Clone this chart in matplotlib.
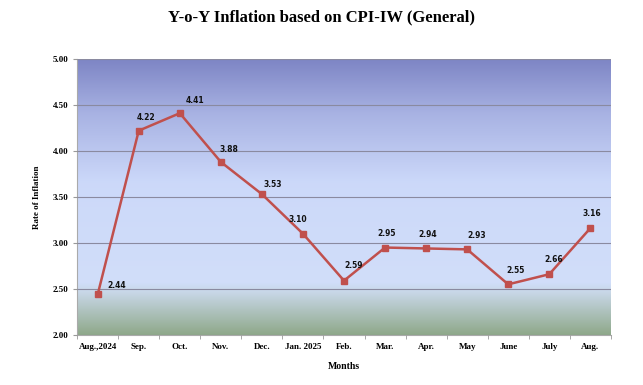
import numpy as np
import matplotlib
matplotlib.use('Agg')
import matplotlib.pyplot as plt
from matplotlib.colors import LinearSegmentedColormap

months = ['Aug.,2024', 'Sep.', 'Oct.', 'Nov.', 'Dec.', 'Jan. 2025', 'Feb.',
          'Mar.', 'Apr.', 'May', 'June', 'July', 'Aug.']
inflation = [2.44, 4.22, 4.41, 3.88, 3.53, 3.10, 2.59, 2.95, 2.94, 2.93, 2.55, 2.66, 3.16]
# label offsets in points (dx, dy)
label_offsets = [(14, 3), (5, 6), (11, 6), (6, 6), (8, 4), (-4, 7), (7, 8),
                 (1, 7), (1, 7), (7, 7), (5, 7), (3, 7), (1, 7)]

serif = 'Liberation Serif'

fig = plt.figure(figsize=(6.43, 3.85), dpi=100)
ax = fig.add_axes([0.12, 0.13, 0.83, 0.717])

# background gradient (bottom -> top)
stops = [(0.0, (0.56, 0.66, 0.54)),
         (0.15, (0.78, 0.84, 0.90)),
         (0.19, (0.82, 0.87, 0.98)),
         (0.55, (0.80, 0.85, 0.98)),
         (0.80, (0.66, 0.70, 0.89)),
         (1.0, (0.49, 0.52, 0.77))]
cmap = LinearSegmentedColormap.from_list('bg', stops)
grad = np.linspace(0, 1, 256).reshape(-1, 1)
ax.imshow(grad, cmap=cmap, origin='lower', aspect='auto',
          extent=[-0.5, 12.5, 2.0, 5.0], zorder=0)

x = np.arange(len(months))
ax.plot(x, inflation, color='#c0504d', lw=1.8, marker='s', ms=5, zorder=3)
for xi, v, off in zip(x, inflation, label_offsets):
    ax.annotate(f'{v:.2f}', (xi, v), xytext=off, textcoords='offset points',
                ha='center', va='bottom', fontsize=5.5, fontweight='bold',
                family='DejaVu Sans', color='#111111')

ax.set_xlim(-0.5, 12.5)
ax.set_ylim(2.0, 5.0)
ax.set_yticks(np.arange(2.0, 5.01, 0.5))
ax.set_yticklabels([f'{t:.2f}' for t in np.arange(2.0, 5.01, 0.5)])
ax.set_xticks(x)
ax.set_xticklabels(months)
ax.set_xticks(np.arange(-0.5, 12.6, 1), minor=True)
ax.tick_params(axis='x', which='major', length=0, pad=6)
ax.tick_params(axis='x', which='minor', length=3, color='#999999')
ax.tick_params(axis='y', length=3, color='#999999', pad=3)
for lab in ax.get_xticklabels() + ax.get_yticklabels():
    lab.set_family(serif)
    lab.set_fontweight('bold')
    lab.set_fontsize(6.5)

ax.grid(axis='y', color='#8a8aa0', lw=0.8, zorder=1)
ax.set_axisbelow(False)
for s in ['top', 'right']:
    ax.spines[s].set_visible(False)
ax.spines['left'].set_color('#aaaaaa')
ax.spines['bottom'].set_color('#aaaaaa')

ax.set_ylabel('Rate of Inflation', family=serif, fontweight='bold', fontsize=6.5, labelpad=9)
ax.set_xlabel('Months', family=serif, fontweight='bold', fontsize=7, labelpad=8)
fig.suptitle('Y-o-Y Inflation based on CPI-IW (General)', family=serif,
             fontweight='bold', fontsize=12, y=0.975)

fig.savefig('out.png', dpi=100)
